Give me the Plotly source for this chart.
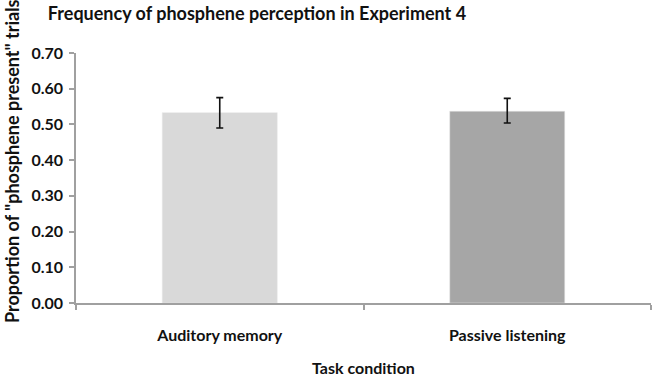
import plotly.graph_objects as go

categories = ["Auditory memory", "Passive listening"]
values = [0.533, 0.537]
err_upper = [0.575, 0.573]
err_lower = [0.490, 0.504]
bar_colors = ["#d9d9d9", "#a6a6a6"]

plus = [u - v for u, v in zip(err_upper, values)]
minus = [v - l for v, l in zip(values, err_lower)]

FONT = "Lato"
W, H = 654, 377

fig = go.Figure(go.Bar(
    x=categories, y=values,
    marker=dict(color=bar_colors, line=dict(color="#e6e6e6", width=0.5)),
    error_y=dict(type="data", symmetric=False, array=plus, arrayminus=minus,
                 color="#111111", thickness=1.6, width=3.5),
))

fig.update_layout(
    width=W, height=H,
    margin=dict(l=76, r=3, t=53, b=74, autoexpand=False),
    paper_bgcolor="white", plot_bgcolor="white",
    bargap=0.6, showlegend=False,
    font=dict(family=FONT, color="#111111"),
    title=dict(text="<b>Frequency of phosphene perception in Experiment 4</b>",
               x=257/W, xanchor="center", y=1 - 14/H, yanchor="middle",
               font=dict(family=FONT, size=18, color="#111111")),
    annotations=[
        dict(text="<b>Proportion of \"phosphene present\" trials</b>", textangle=-90,
             xref="paper", yref="paper", x=-(76 - 12) / (W - 79), y=(H - 74 - 161) / (H - 127),
             xanchor="center", yanchor="middle", showarrow=False,
             font=dict(family=FONT, size=18, color="#111111")),
        dict(text="<b>Task condition</b>",
             xref="paper", yref="paper", x=0.5, y=-(367 - 303) / (H - 127),
             xanchor="center", yanchor="middle", showarrow=False,
             font=dict(family=FONT, size=16, color="#111111")),
    ],
)
fig.update_xaxes(
    automargin=False,
    showline=True, linecolor="#a0a0a0", linewidth=1.5,
    ticks="outside", tickson="boundaries", ticklen=5, tickcolor="#a0a0a0", tickwidth=1.5,
    tickfont=dict(family=FONT, size=16, color="#111111"),
    tickprefix="<b>", ticksuffix="</b>", ticklabelstandoff=17,
    showgrid=False,
)
fig.update_yaxes(
    automargin=False,
    range=[0, 0.7], dtick=0.1, tickformat=".2f",
    showline=True, linecolor="#a0a0a0", linewidth=1.5,
    ticks="outside", ticklen=5, tickcolor="#a0a0a0", tickwidth=1.5,
    tickfont=dict(family=FONT, size=16, color="#111111"),
    tickprefix="<b>", ticksuffix="</b>", ticklabelstandoff=3,
    showgrid=False, zeroline=False,
)

fig.write_html("out.html", config={"displayModeBar": False},
               post_script="document.body.style.margin='0';")
